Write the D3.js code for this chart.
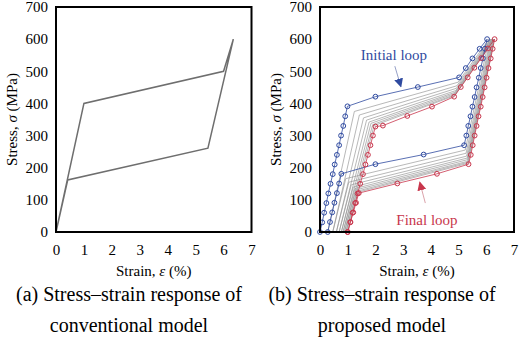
<!DOCTYPE html>
<meta charset="utf-8">
<style>
body { margin: 0; background: #fff; }
svg text { font-family: "Liberation Serif", "Times New Roman", serif; fill: #000; }
</style>
<svg width="521" height="343"></svg>
<script src="https://cdnjs.cloudflare.com/ajax/libs/d3/7.8.5/d3.min.js"></script>
<script>
"use strict";

// axis ticks
var strainTicks = [0, 1, 2, 3, 4, 5, 6, 7];
var stressTicks = [0, 100, 200, 300, 400, 500, 600, 700];

// (a) conventional model: one bilinear loop
var conventionalLoop = [[0, 0], [1.00, 400], [6.00, 500], [6.35, 600], [5.44, 261], [0.42, 162], [0, 0]];

// (b) proposed model: first cycle (blue markers)
var initialLoop = [
  [0, 0], [0.08, 30], [0.15, 60], [0.23, 90], [0.30, 120], [0.38, 150], [0.46, 180], [0.53, 210],
  [0.61, 240], [0.69, 270], [0.76, 300], [0.84, 330], [0.91, 360], [0.99, 391],
  [2.00, 421], [3.53, 451], [5.02, 481],
  [5.26, 510], [5.50, 540], [5.76, 570], [6.03, 600],
  [5.95, 570], [5.88, 540], [5.80, 510], [5.73, 480], [5.65, 450], [5.58, 420], [5.50, 390],
  [5.43, 360], [5.35, 330], [5.28, 300], [5.20, 270],
  [3.74, 241], [2.00, 211], [0.77, 181],
  [0.69, 151], [0.61, 121], [0.52, 91], [0.44, 61], [0.36, 31], [0.28, 0]
];

// intermediate cycles (thin grey)
var midLoops = [
  [[0.28, 0], [1.24, 375], [4.98, 466], [6.10, 600], [5.24, 255], [0.93, 166], [0.46, 0]],
  [[0.46, 0], [1.42, 364], [4.94, 455], [6.15, 600], [5.27, 245], [1.04, 155], [0.59, 0]],
  [[0.59, 0], [1.57, 355], [4.92, 447], [6.18, 600], [5.29, 236], [1.13, 147], [0.69, 0]],
  [[0.69, 0], [1.68, 348], [4.90, 440], [6.21, 600], [5.31, 230], [1.20, 140], [0.77, 0]],
  [[0.77, 0], [1.77, 342], [4.88, 435], [6.24, 600], [5.32, 225], [1.26, 135], [0.83, 0]],
  [[0.83, 0], [1.84, 338], [4.87, 431], [6.26, 600], [5.33, 220], [1.30, 131], [0.88, 0]],
  [[0.88, 0], [1.90, 334], [4.86, 427], [6.27, 600], [5.34, 217], [1.34, 127], [0.93, 0]],
  [[0.93, 0], [1.95, 331], [4.85, 424], [6.29, 600], [5.35, 214], [1.37, 124], [0.96, 0]]
];

// stabilised cycle (red markers)
var finalLoop = [
  [1.00, 0], [1.09, 30], [1.18, 60], [1.27, 90], [1.36, 120], [1.45, 150], [1.55, 180], [1.64, 210],
  [1.73, 240], [1.82, 270], [1.91, 300], [2.00, 328],
  [2.27, 331], [3.15, 361], [4.04, 390], [4.84, 421],
  [5.08, 451], [5.33, 481], [5.57, 511], [5.82, 541], [6.06, 571], [6.30, 600],
  [6.23, 570], [6.16, 540], [6.08, 510], [6.01, 480], [5.94, 450], [5.87, 420], [5.80, 390],
  [5.72, 360], [5.65, 330], [5.58, 300], [5.51, 270], [5.44, 240], [5.36, 211],
  [4.22, 181], [2.79, 151], [1.40, 121],
  [1.30, 91], [1.20, 61], [1.10, 31], [1.00, 0]
];

var captionA = ["(a) Stress\u2013strain response of", "conventional model"];
var captionB = ["(b) Stress\u2013strain response of", "proposed model"];

var svg = d3.select("svg");
var serif = "'Liberation Serif', 'Times New Roman', serif";
var blue = "#2f4aa0", red = "#c8364c";

svg.append("defs").selectAll("marker")
  .data([["headBlue", blue], ["headRed", red]])
  .enter().append("marker")
    .attr("id", function(d) { return d[0]; })
    .attr("viewBox", "0 0 10 10")
    .attr("refX", 9).attr("refY", 5)
    .attr("markerWidth", 9).attr("markerHeight", 9)
    .attr("markerUnits", "userSpaceOnUse")
    .attr("orient", "auto")
  .append("path")
    .attr("d", "M0,0L10,5L0,10Z")
    .attr("fill", function(d) { return d[1]; });

function cleanAxis(a) {
  a.attr("font-family", serif).attr("font-size", 15);
  a.select(".domain").remove();
  a.selectAll(".tick text").attr("fill", "#000");
}

function panel(left, right) {
  var x = d3.scaleLinear().domain([0, 7]).range([left, right]);
  var y = d3.scaleLinear().domain([0, 700]).range([232, 7]);
  var g = svg.append("g");

  g.append("g")
    .attr("transform", "translate(" + left + ",0)")
    .call(d3.axisLeft(y).tickValues(stressTicks).tickFormat(d3.format("d")).tickSize(0).tickPadding(8))
    .call(cleanAxis);

  g.append("g")
    .attr("transform", "translate(0,232)")
    .call(d3.axisBottom(x).tickValues(strainTicks).tickFormat(d3.format("d")).tickSize(0).tickPadding(12))
    .call(cleanAxis);

  var ylab = g.append("text")
    .attr("transform", "translate(" + (left - 39) + "," + y(350) + ") rotate(-90)")
    .attr("text-anchor", "middle")
    .attr("font-size", 15);
  ylab.append("tspan").text("Stress, ");
  ylab.append("tspan").attr("font-style", "italic").text("\u03c3");
  ylab.append("tspan").text(" (MPa)");

  var xlab = g.append("text")
    .attr("x", (left + right) / 2).attr("y", 276)
    .attr("text-anchor", "middle")
    .attr("font-size", 15);
  xlab.append("tspan").text("Strain, ");
  xlab.append("tspan").attr("font-style", "italic").text("\u03b5");
  xlab.append("tspan").text(" (%)");

  return {g: g, x: x, y: y, left: left, right: right};
}

function frame(p) {
  p.g.append("rect")
    .attr("x", p.left).attr("y", p.y(700))
    .attr("width", p.right - p.left).attr("height", p.y(0) - p.y(700))
    .attr("fill", "none").attr("stroke", "#000").attr("stroke-width", 2);
}

function caption(lines, cx) {
  svg.append("text")
    .attr("text-anchor", "middle")
    .attr("font-size", 20)
    .selectAll("tspan").data(lines).enter().append("tspan")
      .attr("x", cx)
      .attr("y", function(d, i) { return 301 + i * 31; })
      .text(function(d) { return d; });
}

// ---- (a)
var pa = panel(56, 251.5);
var lineA = d3.line().x(function(d) { return pa.x(d[0]); }).y(function(d) { return pa.y(d[1]); });
pa.g.append("path")
  .attr("d", lineA(conventionalLoop))
  .attr("fill", "none").attr("stroke", "#6e6e6e").attr("stroke-width", 1.5);
frame(pa);

// ---- (b)
var pb = panel(320, 514);
var lineB = d3.line().x(function(d) { return pb.x(d[0]); }).y(function(d) { return pb.y(d[1]); });

pb.g.selectAll(".mid").data(midLoops).enter().append("path")
  .attr("class", "mid")
  .attr("d", lineB)
  .attr("fill", "none").attr("stroke", "#9a9a9a").attr("stroke-width", 0.7);

[[initialLoop, blue], [finalLoop, red]].forEach(function(s) {
  pb.g.append("path")
    .attr("d", lineB(s[0]))
    .attr("fill", "none").attr("stroke", s[1]).attr("stroke-width", 0.8);
  pb.g.append("g").selectAll("circle").data(s[0]).enter().append("circle")
    .attr("cx", function(d) { return pb.x(d[0]); })
    .attr("cy", function(d) { return pb.y(d[1]); })
    .attr("r", 2.4)
    .attr("fill", "none").attr("stroke", s[1]).attr("stroke-width", 1);
});
frame(pb);

// annotations
pb.g.append("text")
  .attr("x", pb.x(2.67)).attr("y", pb.y(535))
  .attr("text-anchor", "middle").attr("font-size", 15)
  .style("fill", blue).text("Initial loop");
pb.g.append("line")
  .attr("x1", pb.x(2.70)).attr("y1", pb.y(516))
  .attr("x2", pb.x(2.92)).attr("y2", pb.y(452))
  .attr("stroke", "#7a86b8").attr("stroke-width", 0.8)
  .attr("marker-end", "url(#headBlue)");

pb.g.append("text")
  .attr("x", pb.x(3.86)).attr("y", pb.y(22))
  .attr("text-anchor", "middle").attr("font-size", 15)
  .style("fill", red).text("Final loop");
pb.g.append("line")
  .attr("x1", pb.x(3.80)).attr("y1", pb.y(90))
  .attr("x2", pb.x(3.60)).attr("y2", pb.y(155))
  .attr("stroke", "#d08a94").attr("stroke-width", 0.8)
  .attr("marker-end", "url(#headRed)");

caption(captionA, 129);
caption(captionB, 382);
</script>
